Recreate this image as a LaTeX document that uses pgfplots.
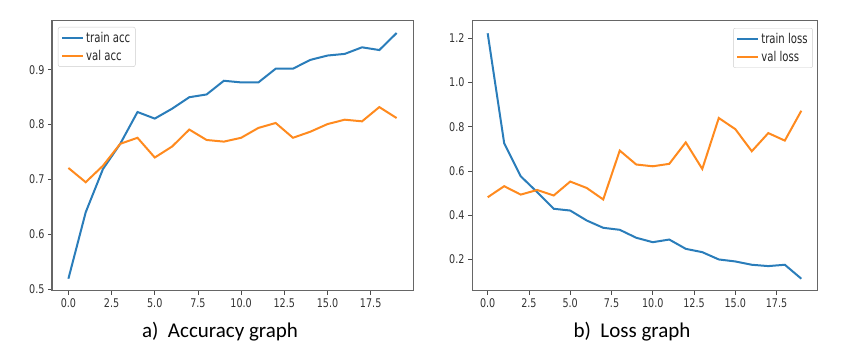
\documentclass[border=0pt]{standalone}
\usepackage{fontspec}
\setmainfont{Carlito}
\newfontfamily\tickfont[FakeStretch=0.8]{DejaVu Sans}
\newfontfamily\legfont[FakeStretch=0.75]{DejaVu Sans}
\usepackage{pgfplots}
\pgfplotsset{compat=1.18}
\definecolor{tabblue}{HTML}{2A7DBA}
\definecolor{taborange}{HTML}{FF8A1E}
\pgfplotsset{
  every axis/.append style={
    scale only axis,
    axis line style={black!60, line width=1pt},
    tick pos=left, tick align=outside,
    major tick length=4pt,
    tick style={black!70, line width=0.8pt},
    ticklabel style={font=\tickfont\fontsize{12}{14}\selectfont, text=black!80},
    /pgf/number format/assume math mode=true,
    xmin=-0.95, xmax=19.95,
    xtick={0,2.5,5,7.5,10,12.5,15,17.5},
    xticklabels={0.0,2.5,5.0,7.5,10.0,12.5,15.0,17.5},
    legend cell align=left,
    legend image code/.code={\draw[#1] (0pt,0pt) -- (21pt,0pt);},
    legend style={font=\legfont\fontsize{13.5}{16}\selectfont, text=black!85, draw=black!20, rounded corners=2pt, fill=white, inner xsep=3pt, inner ysep=3pt, row sep=2pt},
  }
}
\begin{document}
\begin{tikzpicture}[x=1pt,y=1pt]
\path[use as bounding box] (0,0) rectangle (847,352);
\begin{axis}[at={(52pt,61pt)}, anchor=south west, width=361pt, height=270pt,
  ymin=0.4966, ymax=0.989,
  ytick={0.5,0.6,0.7,0.8,0.9}, yticklabels={0.5,0.6,0.7,0.8,0.9},
  legend style={at={(0.0166,0.978)}, anchor=north west}]
\addplot[tabblue, line width=2pt] coordinates {
(0,0.519) (1,0.640) (2,0.719) (3,0.765) (4,0.823) (5,0.811) (6,0.829) (7,0.850) (8,0.855) (9,0.880)
(10,0.877) (11,0.877) (12,0.902) (13,0.902) (14,0.918) (15,0.926) (16,0.929) (17,0.941) (18,0.936) (19,0.967)};
\addlegendentry{train acc}
\addplot[taborange, line width=2pt] coordinates {
(0,0.721) (1,0.695) (2,0.725) (3,0.765) (4,0.776) (5,0.740) (6,0.760) (7,0.791) (8,0.772) (9,0.769)
(10,0.776) (11,0.794) (12,0.803) (13,0.776) (14,0.787) (15,0.801) (16,0.809) (17,0.806) (18,0.832) (19,0.812)};
\addlegendentry{val acc}
\end{axis}
\begin{axis}[at={(472pt,61pt)}, anchor=south west, width=345pt, height=270pt,
  ymin=0.0575, ymax=1.2775,
  ytick={0.2,0.4,0.6,0.8,1.0,1.2}, yticklabels={0.2,0.4,0.6,0.8,1.0,1.2},
  legend style={at={(0.988,0.974)}, anchor=north east}]
\addplot[tabblue, line width=2pt] coordinates {
(0,1.222) (1,0.725) (2,0.576) (3,0.504) (4,0.429) (5,0.421) (6,0.376) (7,0.343) (8,0.334) (9,0.298)
(10,0.278) (11,0.290) (12,0.248) (13,0.233) (14,0.200) (15,0.191) (16,0.176) (17,0.170) (18,0.176) (19,0.113)};
\addlegendentry{train loss}
\addplot[taborange, line width=2pt] coordinates {
(0,0.481) (1,0.531) (2,0.493) (3,0.514) (4,0.489) (5,0.552) (6,0.523) (7,0.471) (8,0.692) (9,0.629)
(10,0.621) (11,0.632) (12,0.729) (13,0.609) (14,0.839) (15,0.789) (16,0.689) (17,0.771) (18,0.737) (19,0.872)};
\addlegendentry{val loss}
\end{axis}
\node[anchor=base, font=\fontsize{21}{25}\selectfont, text=black] at (220,14) {a)\ \ Accuracy graph};
\node[anchor=base, font=\fontsize{21}{25}\selectfont, text=black] at (632,14) {b)\ \ Loss graph};
\end{tikzpicture}
\end{document}
